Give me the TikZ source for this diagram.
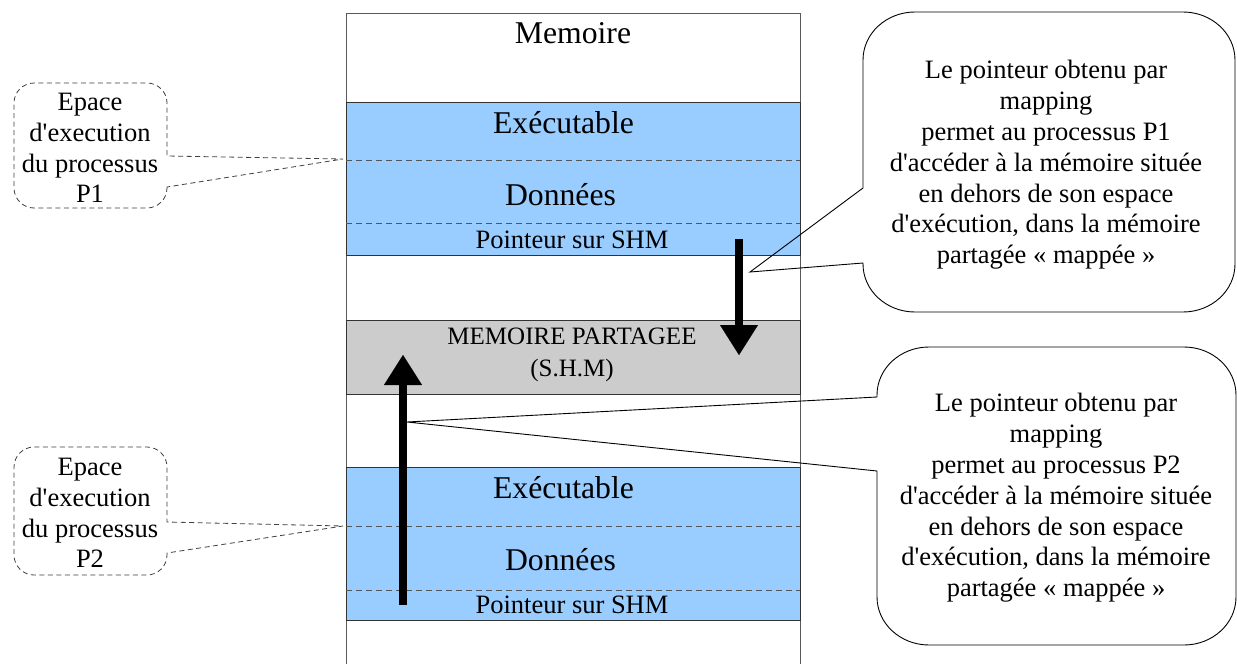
\documentclass[tikz,border=0pt]{standalone}
\usepackage{fontspec}
\setmainfont{Liberation Serif}
\usetikzlibrary{arrows.meta}
\definecolor{memblue}{HTML}{99CCFF}
\definecolor{memgray}{HTML}{CCCCCC}
\definecolor{edgegray}{HTML}{555555}
\newcommand\ap{\textquotesingle}
\tikzset{
  region/.style={draw=black!80, line width=0.8pt, minimum width=454pt, anchor=north west, inner sep=0pt, outer sep=0pt},
  colline/.style={draw=black!65, line width=1pt},
  sepline/.style={draw=edgegray, line width=0.8pt, dash pattern=on 6pt off 4pt},
  bigtxt/.style={font=\fontsize{31.7}{36}\selectfont, anchor=base, inner sep=0pt},
  midtxt/.style={font=\fontsize{26.5}{30}\selectfont, anchor=base, inner sep=0pt},
  shmtxt/.style={font=\fontsize{25}{30}\selectfont, anchor=base, inner sep=0pt},
  notetxt/.style={font=\fontsize{26.5}{30.8}\selectfont, align=center, inner sep=0pt},
  ptrarrow/.style={line width=7.5pt, -{Triangle[width=38pt,length=30pt,line width=0.1pt]}},
  solidcallout/.style={draw=black, line width=0.9pt, line join=miter},
  dashcallout/.style={draw=black!75, line width=0.8pt, dash pattern=on 5pt off 3.5pt},
}
\begin{document}
\begin{tikzpicture}[x=1pt,y=-1pt]
\fill[white] (0,0) rectangle (1237,664);
\useasboundingbox (0,0) rectangle (1237,664);

% memory column
\node[region, draw=none, minimum height=700pt] (mem) at (346,13) {};
\draw[colline] (mem.south west) -- (mem.north west) -- (mem.north east) -- (mem.south east);
\node[bigtxt] (memlbl) at (573,43.5) {Memoire};

% process P1 block
\node[region, fill=memblue, minimum height=153pt] (b1) at (346,102) {};
\draw[sepline] (346,160) -- (800,160);
\draw[sepline] (346,223) -- (800,223);
\node[bigtxt] (exe1) at (563.5,133) {Exécutable};
\node[bigtxt] (don1) at (560.5,205.5) {Données};
\node[midtxt] (ptr1) at (572,248) {Pointeur sur SHM};

% shared memory
\node[region, fill=memgray, minimum height=74pt] (shm) at (346,320) {};
\node[shmtxt] (shm1) at (572,344) {MEMOIRE PARTAGEE};
\node[shmtxt] (shm2) at (572,376.5) {(S.H.M)};

% process P2 block
\node[region, fill=memblue, minimum height=153pt] (b2) at (346,467) {};
\draw[sepline] (346,526) -- (800,526);
\draw[sepline] (346,590) -- (800,590);
\node[bigtxt] (exe2) at (563.5,498) {Exécutable};
\node[bigtxt] (don2) at (560.5,570.5) {Données};
\node[midtxt] (ptr2) at (572,613.5) {Pointeur sur SHM};

% pointer arrows
\coordinate (a1s) at (739,239);
\coordinate (a1e) at (739,355);
\coordinate (a2s) at (403,605);
\coordinate (a2e) at (403,355);
\draw[ptrarrow] (a1s) -- (a1e);
\draw[ptrarrow] (a2s) -- (a2e);

% left dashed callouts
\coordinate (t1) at (343,159);
\coordinate (t2) at (343,526);
\draw[dashcallout] (167,187) -- (167,188) .. controls (167,199) and (158,208) .. (147,208)
  -- (34,208) .. controls (23,208) and (14,199) .. (14,188)
  -- (14,103) .. controls (14,92) and (23,83) .. (34,83)
  -- (147,83) .. controls (158,83) and (167,92) .. (167,103)
  -- (167,156) -- (t1) -- cycle;
\node[notetxt] (lp1) at (90,148) {Epace\\d\ap execution\\du processus\\P1};
\draw[dashcallout] (167,553) -- (167,555) .. controls (167,566) and (158,575) .. (147,575)
  -- (34,575) .. controls (23,575) and (14,566) .. (14,555)
  -- (14,467) .. controls (14,456) and (23,447) .. (34,447)
  -- (147,447) .. controls (158,447) and (167,456) .. (167,467)
  -- (167,522) -- (t2) -- cycle;
\node[notetxt] (lp2) at (90,513) {Epace\\d\ap execution\\du processus\\P2};

% right solid callouts
\coordinate (r1) at (750,272);
\coordinate (r2) at (407,422);
\draw[solidcallout] (863,263) -- (863,264) .. controls (863,290.5) and (886.3,312) .. (915,312)
  -- (1183,312) .. controls (1211.7,312) and (1235,290.5) .. (1235,264)
  -- (1235,60) .. controls (1235,33.5) and (1211.7,12) .. (1183,12)
  -- (915,12) .. controls (886.3,12) and (863,33.5) .. (863,60)
  -- (863,188) -- (r1) -- cycle;
\node[notetxt] (rp1) at (1046,165) {Le pointeur obtenu par\\mapping\\permet au processus P1\\d\ap accéder à la mémoire située\\en dehors de son espace\\d\ap exécution, dans la mémoire\\partagée «~mappée~»};
\draw[solidcallout] (877,471) -- (877,597) .. controls (877,623.5) and (900.3,645) .. (929,645)
  -- (1184,645) .. controls (1212.7,645) and (1236,623.5) .. (1236,597)
  -- (1236,395) .. controls (1236,368.5) and (1212.7,347) .. (1184,347)
  -- (929,347) .. controls (900.3,347) and (877,368.5) .. (877,395)
  -- (877,397) -- (r2) -- cycle;
\node[notetxt] (rp2) at (1056,498) {Le pointeur obtenu par\\mapping\\permet au processus P2\\d\ap accéder à la mémoire située\\en dehors de son espace\\d\ap exécution, dans la mémoire\\partagée «~mappée~»};
\end{tikzpicture}
\end{document}
